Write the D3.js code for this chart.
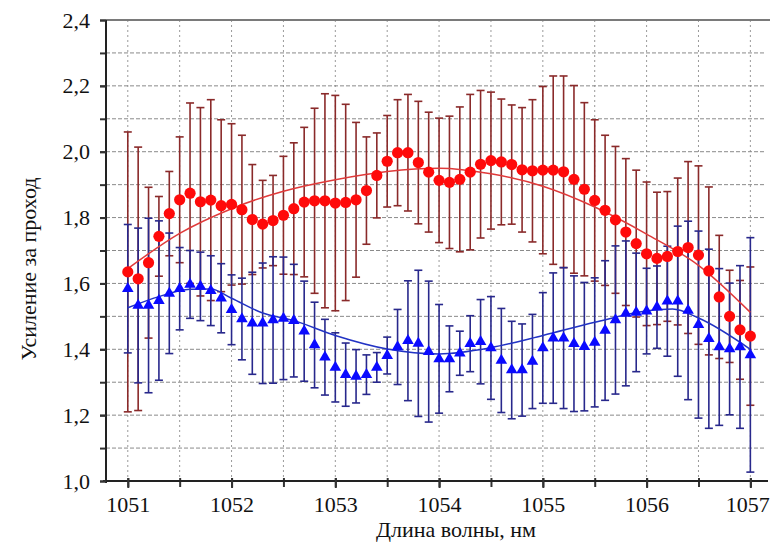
<!DOCTYPE html>
<html lang="ru">
<head>
    <meta charset="UTF-8">
    <title>Усиление за проход</title>
    <script src="https://d3js.org/d3.v7.min.js" charset="utf-8"></script>
    <style>
        body { margin: 0; background: #fff; }
        svg { display: block; background: #fff; }
        text { font-family: "Liberation Serif", "Times New Roman", serif; fill: #111; }
    </style>
</head>
<body>
<div id="chart"></div>
<script>
    // wavelength, nm (one measurement every 0.1 nm)
    var wavelength = [
        1051.0, 1051.1, 1051.2, 1051.3, 1051.4, 1051.5, 1051.6, 1051.7, 1051.8, 1051.9,
        1052.0, 1052.1, 1052.2, 1052.3, 1052.4, 1052.5, 1052.6, 1052.7, 1052.8, 1052.9,
        1053.0, 1053.1, 1053.2, 1053.3, 1053.4, 1053.5, 1053.6, 1053.7, 1053.8, 1053.9,
        1054.0, 1054.1, 1054.2, 1054.3, 1054.4, 1054.5, 1054.6, 1054.7, 1054.8, 1054.9,
        1055.0, 1055.1, 1055.2, 1055.3, 1055.4, 1055.5, 1055.6, 1055.7, 1055.8, 1055.9,
        1056.0, 1056.1, 1056.2, 1056.3, 1056.4, 1056.5, 1056.6, 1056.7, 1056.8, 1056.9,
        1057.0
    ];

    // red series (circles) and its error half-widths
    var redGain = [
        1.635, 1.614, 1.663, 1.743, 1.812, 1.854, 1.874, 1.848, 1.853, 1.836,
        1.840, 1.824, 1.794, 1.780, 1.791, 1.807, 1.827, 1.847, 1.851, 1.851,
        1.844, 1.846, 1.854, 1.882, 1.928, 1.971, 1.997, 1.997, 1.967, 1.938,
        1.913, 1.907, 1.916, 1.938, 1.962, 1.973, 1.969, 1.961, 1.945, 1.942,
        1.944, 1.944, 1.939, 1.916, 1.886, 1.852, 1.822, 1.793, 1.756, 1.721,
        1.690, 1.676, 1.682, 1.697, 1.709, 1.686, 1.638, 1.559, 1.500, 1.459,
        1.440
    ];
    var redErr = [
        0.425, 0.400, 0.229, 0.121, 0.128, 0.191, 0.274, 0.286, 0.305, 0.261,
        0.245, 0.226, 0.167, 0.133, 0.137, 0.179, 0.200, 0.227, 0.281, 0.325,
        0.327, 0.298, 0.235, 0.163, 0.129, 0.139, 0.161, 0.177, 0.186, 0.182,
        0.189, 0.201, 0.220, 0.236, 0.224, 0.208, 0.191, 0.181, 0.189, 0.216,
        0.254, 0.286, 0.291, 0.285, 0.263, 0.245, 0.228, 0.223, 0.223, 0.223,
        0.218, 0.201, 0.197, 0.223, 0.261, 0.271, 0.255, 0.187, 0.140, 0.150,
        0.210
    ];

    // blue series (triangles) and its error half-widths
    var blueGain = [
        1.584, 1.533, 1.533, 1.548, 1.570, 1.584, 1.597, 1.591, 1.578, 1.555,
        1.520, 1.492, 1.479, 1.479, 1.489, 1.494, 1.487, 1.455, 1.413, 1.376,
        1.345, 1.323, 1.318, 1.323, 1.345, 1.381, 1.407, 1.426, 1.418, 1.393,
        1.371, 1.371, 1.388, 1.417, 1.423, 1.404, 1.366, 1.337, 1.337, 1.363,
        1.404, 1.434, 1.434, 1.417, 1.408, 1.421, 1.457, 1.489, 1.509, 1.512,
        1.516, 1.528, 1.546, 1.546, 1.518, 1.475, 1.432, 1.407, 1.401, 1.407,
        1.383
    ];
    var blueErr = [
        0.195, 0.235, 0.265, 0.242, 0.183, 0.125, 0.103, 0.104, 0.106, 0.105,
        0.106, 0.124, 0.155, 0.183, 0.192, 0.186, 0.171, 0.152, 0.130, 0.115,
        0.105, 0.096, 0.081, 0.060, 0.045, 0.056, 0.114, 0.182, 0.222, 0.214,
        0.165, 0.100, 0.067, 0.085, 0.128, 0.156, 0.158, 0.148, 0.140, 0.143,
        0.168, 0.198, 0.214, 0.206, 0.195, 0.196, 0.212, 0.225, 0.220, 0.180,
        0.130, 0.125, 0.167, 0.228, 0.271, 0.284, 0.272, 0.238, 0.200, 0.247,
        0.356
    ];

    // smooth fit curves
    var redFitX = [1051.0, 1051.5, 1052.0, 1052.5, 1053.0, 1053.5, 1054.0, 1054.5, 1055.0, 1055.5, 1056.0, 1056.5, 1057.0];
    var redFitY = [1.645, 1.752, 1.827, 1.880, 1.915, 1.940, 1.950, 1.933, 1.895, 1.832, 1.750, 1.655, 1.512];
    var blueFitX = [1051.0, 1051.3, 1051.6, 1051.8, 1052.0, 1052.3, 1052.6, 1053.0, 1053.5, 1054.0, 1054.5, 1055.0, 1055.5, 1056.0, 1056.25, 1056.5, 1057.0];
    var blueFitY = [1.526, 1.560, 1.582, 1.583, 1.555, 1.510, 1.487, 1.442, 1.401, 1.386, 1.405, 1.442, 1.482, 1.516, 1.522, 1.495, 1.400];

    // axes
    var xTicks = [1051, 1052, 1053, 1054, 1055, 1056, 1057];
    var xMinorTicks = [1051, 1051.5, 1052, 1052.5, 1053, 1053.5, 1054, 1054.5, 1055, 1055.5, 1056, 1056.5, 1057];
    var yTicks = [1.0, 1.2, 1.4, 1.6, 1.8, 2.0, 2.2, 2.4];
    var yMinorTicks = [1.0, 1.1, 1.2, 1.3, 1.4, 1.5, 1.6, 1.7, 1.8, 1.9, 2.0, 2.1, 2.2, 2.3, 2.4];

    var svgwidth = 770;
    var svgheight = 544;
    var plotLeft = 106, plotRight = 768, plotTop = 20, plotBottom = 481;
    var serif = '"Liberation Serif", "Times New Roman", serif';

    var svg = d3.select('#chart').append('svg')
        .attr('width', svgwidth)
        .attr('height', svgheight);

    var x = d3.scaleLinear().domain([1050.79, 1057.17]).range([plotLeft, plotRight]);
    var y = d3.scaleLinear().domain([1.0, 2.4]).range([plotBottom, plotTop]);

    var comma = function(d) { return d3.format('.1f')(d).replace('.', ','); };

    // grid
    var grid = svg.append('g');
    grid.selectAll('.gx')
        .data(xMinorTicks)
        .enter().append('line')
        .attr('x1', d => x(d)).attr('x2', d => x(d))
        .attr('y1', plotTop).attr('y2', plotBottom)
        .attr('stroke', '#9a9a9a')
        .attr('stroke-width', 1)
        .attr('stroke-dasharray', '2,3');
    grid.selectAll('.gy')
        .data(yMinorTicks.filter(d => d > 1.0 && d < 2.4))
        .enter().append('line')
        .attr('x1', plotLeft).attr('x2', 765)
        .attr('y1', d => y(d)).attr('y2', d => y(d))
        .attr('stroke', '#8a8a8a')
        .attr('stroke-width', 1)
        .attr('stroke-dasharray', '4,2');

    // top frame line
    svg.append('line')
        .attr('x1', plotLeft).attr('x2', 770)
        .attr('y1', y(2.4)).attr('y2', y(2.4))
        .attr('stroke', '#7a7a7a')
        .attr('stroke-width', 2);

    // error bars
    function errorBars(gain, err, color) {
        var g = svg.append('g');
        var rows = wavelength.map((w, i) => ({ w: w, v: gain[i], e: err[i] }));
        g.selectAll('line.bar')
            .data(rows)
            .enter().append('line')
            .attr('x1', d => x(d.w)).attr('x2', d => x(d.w))
            .attr('y1', d => y(d.v - d.e)).attr('y2', d => y(d.v + d.e))
            .attr('stroke', color)
            .attr('stroke-width', 1.6);
        [-1, 1].forEach(function(s) {
            g.selectAll('line.cap' + s)
                .data(rows)
                .enter().append('line')
                .attr('x1', d => x(d.w) - 4).attr('x2', d => x(d.w) + 4)
                .attr('y1', d => y(d.v + s * d.e)).attr('y2', d => y(d.v + s * d.e))
                .attr('stroke', color)
                .attr('stroke-width', 1.6);
        });
    }
    errorBars(redGain, redErr, '#8a2a2a');
    errorBars(blueGain, blueErr, '#28288c');

    // fit curves
    var line = d3.line()
        .x(d => x(d[0]))
        .y(d => y(d[1]))
        .curve(d3.curveMonotoneX);
    svg.append('path')
        .attr('d', line(redFitX.map((v, i) => [v, redFitY[i]])))
        .attr('fill', 'none')
        .attr('stroke', '#e03a3a')
        .attr('stroke-width', 1.5);
    svg.append('path')
        .attr('d', line(blueFitX.map((v, i) => [v, blueFitY[i]])))
        .attr('fill', 'none')
        .attr('stroke', '#2233c4')
        .attr('stroke-width', 1.5);

    // markers
    svg.append('g').selectAll('circle')
        .data(wavelength.map((w, i) => [w, redGain[i]]))
        .enter().append('circle')
        .attr('cx', d => x(d[0]))
        .attr('cy', d => y(d[1]))
        .attr('r', 5.6)
        .attr('fill', '#ff0a0a');

    var tri = d3.symbol().type(d3.symbolTriangle).size(58);
    svg.append('g').selectAll('path')
        .data(wavelength.map((w, i) => [w, blueGain[i]]))
        .enter().append('path')
        .attr('d', tri)
        .attr('transform', d => 'translate(' + x(d[0]) + ',' + y(d[1]) + ')')
        .attr('fill', '#0a0aff');

    // axes
    var xAxisMinor = d3.axisBottom(x).tickValues(xMinorTicks).tickSize(6).tickFormat('');
    var xAxis = d3.axisBottom(x).tickValues(xTicks).tickSize(7).tickPadding(8).tickFormat(d3.format('d'));
    var gx1 = svg.append('g').attr('transform', 'translate(0,' + plotBottom + ')').call(xAxisMinor);
    var gx2 = svg.append('g').attr('transform', 'translate(0,' + plotBottom + ')').call(xAxis);
    [gx1, gx2].forEach(function(g) {
        g.select('.domain').attr('stroke', '#222').attr('stroke-width', 2)
            .attr('d', 'M' + (plotLeft - 3) + ',0H' + plotRight);
        g.selectAll('.tick line').attr('stroke', '#333').attr('stroke-width', 2).attr('y1', -3);
    });
    gx2.attr('font-family', serif).attr('font-size', 22);
    gx2.selectAll('.tick text').attr('fill', '#111')
        .attr('dx', d => d === 1057 ? -3 : 0);

    var yAxisMinor = d3.axisLeft(y).tickValues(yMinorTicks).tickSize(6).tickFormat('');
    var yAxis = d3.axisLeft(y).tickValues(yTicks).tickSize(6).tickPadding(10).tickFormat(comma);
    var gy1 = svg.append('g').attr('transform', 'translate(' + plotLeft + ',0)').call(yAxisMinor);
    var gy2 = svg.append('g').attr('transform', 'translate(' + plotLeft + ',0)').call(yAxis);
    [gy1, gy2].forEach(function(g) {
        g.select('.domain').attr('stroke', '#222').attr('stroke-width', 2)
            .attr('d', 'M0,' + plotTop + 'V' + (plotBottom + 2));
        g.selectAll('.tick line').attr('stroke', '#333').attr('stroke-width', 2);
    });
    gy2.attr('font-family', serif).attr('font-size', 22);
    gy2.selectAll('.tick text').attr('fill', '#111');

    // axis titles
    svg.append('text')
        .attr('x', 456)
        .attr('y', 537)
        .attr('text-anchor', 'middle')
        .attr('font-family', serif)
        .style('font-size', '22px')
        .text('Длина волны, нм');

    svg.append('text')
        .attr('transform', 'translate(36,269) rotate(-90)')
        .attr('text-anchor', 'middle')
        .attr('font-family', serif)
        .style('font-size', '22px')
        .text('Усиление за проход');
</script>
</body>
</html>
